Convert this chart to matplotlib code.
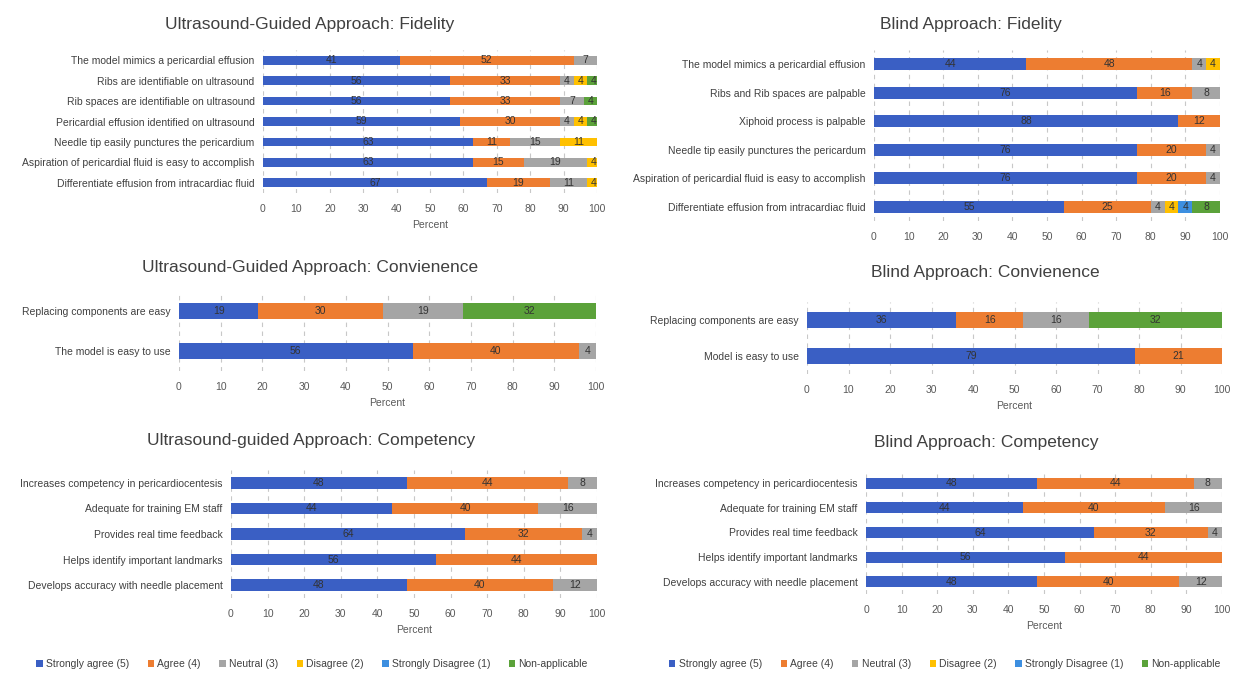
import numpy as np
import matplotlib
matplotlib.use("Agg")
from matplotlib import pyplot as plt
from matplotlib.patches import Patch

plt.rcParams['font.family'] = ['Liberation Sans Narrow', 'Liberation Sans', 'DejaVu Sans']

# response categories and their colours
levels = ['Strongly agree (5)', 'Agree (4)', 'Neutral (3)', 'Disagree (2)',
          'Strongly Disagree (1)', 'Non-applicable']
colors = ['#3A5FC4', '#ED7D31', '#A5A5A5', '#FFC000', '#3D8FE0', '#5BA23A']

# Ultrasound-guided: fidelity (rows top to bottom, values per level)
us_fid_items = ['The model mimics a pericardial effusion',
                'Ribs are identifiable on ultrasound',
                'Rib spaces are identifiable on ultrasound',
                'Pericardial effusion identified on ultrasound',
                'Needle tip easily punctures the pericardium',
                'Aspiration of pericardial fluid is easy to accomplish',
                'Differentiate effusion from intracardiac fluid']
us_fid_vals = [[41, 52, 7, 0, 0, 0],
               [56, 33, 4, 4, 0, 4],
               [56, 33, 7, 0, 0, 4],
               [59, 30, 4, 4, 0, 4],
               [63, 11, 15, 11, 0, 0],
               [63, 15, 19, 4, 0, 0],
               [67, 19, 11, 4, 0, 0]]

# Blind: fidelity
bl_fid_items = ['The model mimics a pericardial effusion',
                'Ribs and Rib spaces are palpable',
                'Xiphoid process is palpable',
                'Needle tip easily punctures the pericardum',
                'Aspiration of pericardial fluid is easy to accomplish',
                'Differentiate effusion from intracardiac fluid']
bl_fid_vals = [[44, 48, 4, 4, 0, 0],
               [76, 16, 8, 0, 0, 0],
               [88, 12, 0, 0, 0, 0],
               [76, 20, 4, 0, 0, 0],
               [76, 20, 4, 0, 0, 0],
               [55, 25, 4, 4, 4, 8]]

# convenience
us_con_items = ['Replacing components are easy', 'The model is easy to use']
us_con_vals = [[19, 30, 19, 0, 0, 32],
               [56, 40, 4, 0, 0, 0]]
bl_con_items = ['Replacing components are easy', 'Model is easy to use']
bl_con_vals = [[36, 16, 16, 0, 0, 32],
               [79, 21, 0, 0, 0, 0]]

# competency (same answers for both approaches)
comp_items = ['Increases competency in pericardiocentesis',
              'Adequate for training EM staff',
              'Provides real time feedback',
              'Helps identify important landmarks',
              'Develops accuracy with needle placement']
us_comp_vals = [[48, 44, 8, 0, 0, 0],
                [44, 40, 16, 0, 0, 0],
                [64, 32, 4, 0, 0, 0],
                [56, 44, 0, 0, 0, 0],
                [48, 40, 12, 0, 0, 0]]
bl_comp_vals = [[48, 44, 8, 0, 0, 0],
                [44, 40, 16, 0, 0, 0],
                [64, 32, 4, 0, 0, 0],
                [56, 44, 0, 0, 0, 0],
                [48, 40, 12, 0, 0, 0]]

W, H = 1233, 673
fig = plt.figure(figsize=(W / 100, H / 100), dpi=100)
fig.patch.set_facecolor('white')


def px_axes(x0, x1, ytop, ybot):
    return fig.add_axes([x0 / W, 1 - ybot / H, (x1 - x0) / W, (ybot - ytop) / H])


def stacked(ax, items, vals, height, xlabel=True):
    vals = np.array(vals, dtype=float)
    y = np.arange(len(items))
    left = np.zeros(len(items))
    for j in range(vals.shape[1]):
        bars = ax.barh(y, vals[:, j], left=left, height=height, color=colors[j],
                       zorder=3)
        for b, v in zip(bars, vals[:, j]):
            if v > 0:
                ax.text(b.get_x() + b.get_width() / 2, b.get_y() + b.get_height() / 2,
                        f'{v:g}', ha='center', va='center', fontsize=7.5,
                        color='#333333', zorder=4)
        left += vals[:, j]
    ax.set_yticks(y)
    ax.set_yticklabels(items, fontsize=7.5, color='#404040')
    ax.set_ylim(len(items) - 0.5, -0.5)
    ax.set_xlim(0, 100)
    ax.set_xticks(range(0, 101, 10))
    ax.tick_params(axis='x', labelsize=7.5, colors='#595959', length=0, pad=8)
    ax.tick_params(axis='y', length=0, pad=6)
    ax.grid(axis='x', color='#C8C8C8', linestyle=(0, (4, 4)), linewidth=0.8, zorder=0)
    for s in ax.spines.values():
        s.set_visible(False)
    if xlabel:
        ax.set_xlabel('Percent', fontsize=7.5, color='#595959', labelpad=4)


def title(x, y, text):
    fig.text(x / W, 1 - y / H, text, ha='center', va='center', fontsize=12.5,
             color='#404040')


ax1 = px_axes(263, 597, 50, 193)
stacked(ax1, us_fid_items, us_fid_vals, 0.42)
title(310, 25, 'Ultrasound-Guided Approach: Fidelity')

ax2 = px_axes(874, 1220, 50, 221)
stacked(ax2, bl_fid_items, bl_fid_vals, 0.42, xlabel=False)
title(971, 25, 'Blind Approach: Fidelity')

ax3 = px_axes(179, 596, 291, 371)
stacked(ax3, us_con_items, us_con_vals, 0.4)
title(310, 268, 'Ultrasound-Guided Approach: Convienence')

ax4 = px_axes(807, 1222, 302, 374)
stacked(ax4, bl_con_items, bl_con_vals, 0.43)
title(985, 273, 'Blind Approach: Convienence')

ax5 = px_axes(231, 597, 470, 598)
stacked(ax5, comp_items, us_comp_vals, 0.45)
title(311, 441, 'Ultrasound-guided Approach: Competency')

ax6 = px_axes(866, 1222, 471, 594)
stacked(ax6, comp_items, bl_comp_vals, 0.45)
title(986, 442, 'Blind Approach: Competency')

handles = [Patch(facecolor=c, label=l) for c, l in zip(colors, levels)]
for cx in (312, 945):
    fig.legend(handles=handles, loc='center', bbox_to_anchor=(cx / W, 1 - 664 / H),
               ncol=6, frameon=False, fontsize=7.5, handlelength=0.6,
               handleheight=0.6, handletextpad=0.3, columnspacing=1.8,
               labelcolor='#404040')

fig.savefig('out.png', dpi=100, facecolor='white')
